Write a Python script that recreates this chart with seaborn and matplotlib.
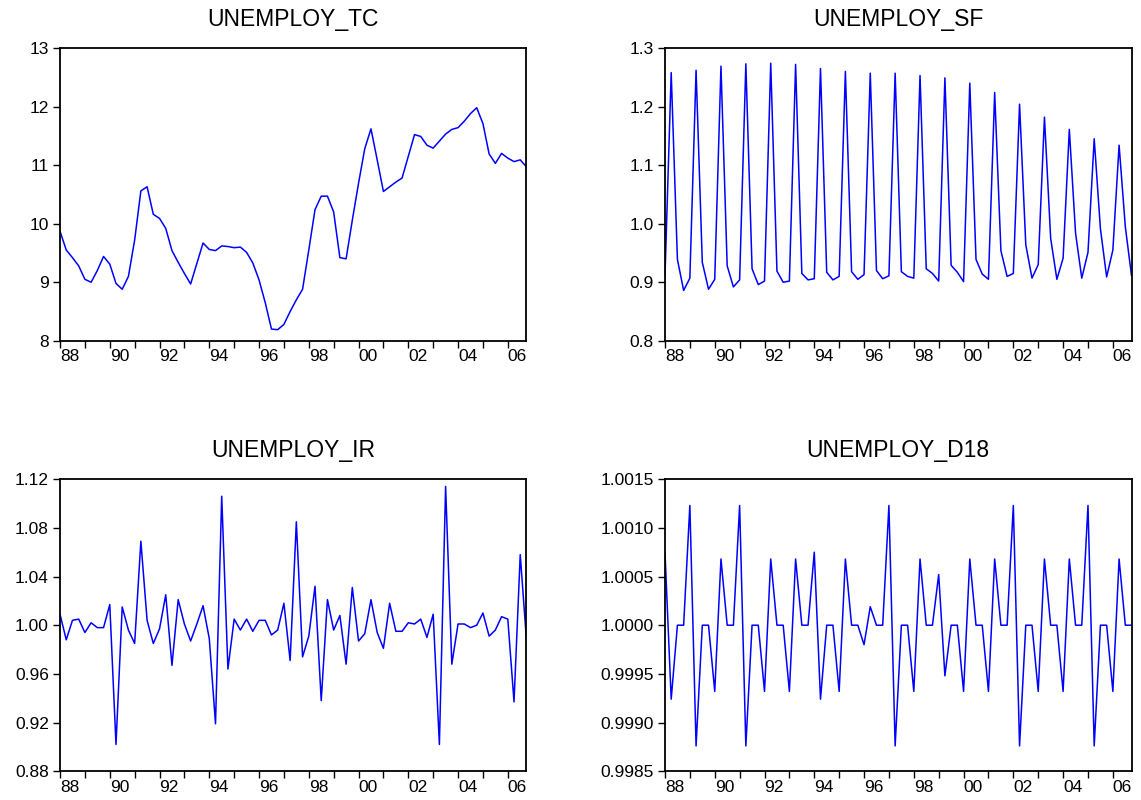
import numpy as np
import pandas as pd
import seaborn as sns
import matplotlib
matplotlib.use('Agg')
from matplotlib import pyplot as plt
from matplotlib.ticker import FormatStrFormatter

# quarterly sample 1988Q1 - 2006Q4
periods = pd.period_range('1988Q1', '2006Q4', freq='Q')
t = periods.year + (periods.quarter - 1) / 4.0

unemploy_tc = [9.87, 9.55, 9.42, 9.28, 9.05, 9.00, 9.20, 9.44, 9.31, 8.98, 8.88, 9.10,
               9.72, 10.56, 10.63, 10.16, 10.09, 9.92, 9.54, 9.34, 9.15, 8.97, 9.32, 9.67,
               9.56, 9.54, 9.62, 9.61, 9.59, 9.60, 9.51, 9.33, 9.04, 8.65, 8.20, 8.19,
               8.28, 8.50, 8.70, 8.88, 9.55, 10.24, 10.47, 10.47, 10.20, 9.42, 9.40, 10.06,
               10.69, 11.28, 11.62, 11.09, 10.55, 10.63, 10.71, 10.78, 11.15, 11.52, 11.49, 11.34,
               11.29, 11.41, 11.53, 11.61, 11.64, 11.75, 11.88, 11.98, 11.71, 11.19, 11.03, 11.20,
               11.12, 11.06, 11.09, 10.97]

unemploy_sf = [0.910, 1.258, 0.939, 0.886, 0.907, 1.262, 0.934, 0.888, 0.905, 1.269, 0.928, 0.892,
               0.904, 1.273, 0.923, 0.896, 0.902, 1.274, 0.919, 0.900, 0.902, 1.272, 0.915, 0.904,
               0.906, 1.265, 0.917, 0.904, 0.910, 1.260, 0.918, 0.905, 0.913, 1.257, 0.920, 0.906,
               0.911, 1.257, 0.918, 0.910, 0.907, 1.253, 0.923, 0.915, 0.902, 1.249, 0.929, 0.917,
               0.901, 1.240, 0.939, 0.914, 0.905, 1.224, 0.954, 0.910, 0.915, 1.204, 0.964, 0.907,
               0.930, 1.182, 0.975, 0.905, 0.941, 1.161, 0.984, 0.907, 0.951, 1.145, 0.991, 0.909,
               0.955, 1.134, 0.995, 0.911]

unemploy_ir = [1.009, 0.988, 1.004, 1.005, 0.994, 1.002, 0.998, 0.998, 1.017, 0.902, 1.015, 0.996,
               0.985, 1.069, 1.004, 0.985, 0.997, 1.025, 0.967, 1.021, 1.001, 0.987, 1.001, 1.016,
               0.989, 0.919, 1.106, 0.964, 1.005, 0.996, 1.005, 0.995, 1.004, 1.004, 0.992, 0.996,
               1.018, 0.971, 1.085, 0.974, 0.991, 1.032, 0.938, 1.021, 0.996, 1.008, 0.968, 1.031,
               0.987, 0.993, 1.021, 0.994, 0.981, 1.018, 0.995, 0.995, 1.002, 1.001, 1.005, 0.990,
               1.009, 0.902, 1.114, 0.968, 1.001, 1.001, 0.998, 1.000, 1.010, 0.991, 0.996, 1.007,
               1.005, 0.937, 1.058, 0.988]

unemploy_d18 = [1.00075, 0.99924, 1.0, 1.0, 1.00123, 0.99876, 1.0, 1.0,
                0.99932, 1.00068, 1.0, 1.0, 1.00123, 0.99876, 1.0, 1.0,
                0.99932, 1.00068, 1.0, 1.0, 0.99932, 1.00068, 1.0, 1.0,
                1.00075, 0.99924, 1.0, 1.0, 0.99932, 1.00068, 1.0, 1.0,
                0.99980, 1.00019, 1.0, 1.0, 1.00123, 0.99876, 1.0, 1.0,
                0.99932, 1.00068, 1.0, 1.0, 1.00052, 0.99948, 1.0, 1.0,
                0.99932, 1.00068, 1.0, 1.0, 0.99932, 1.00068, 1.0, 1.0,
                1.00123, 0.99876, 1.0, 1.0, 0.99932, 1.00068, 1.0, 1.0,
                0.99932, 1.00068, 1.0, 1.0, 1.00123, 0.99876, 1.0, 1.0,
                0.99932, 1.00068, 1.0, 1.0]

years = list(range(1988, 2007))
year_labels = ['%02d' % (y % 100) if y % 2 == 0 else '' for y in years]

panels = [
    ('UNEMPLOY_TC', unemploy_tc, (8, 13), np.arange(8, 13.01, 1), '%d'),
    ('UNEMPLOY_SF', unemploy_sf, (0.8, 1.3), np.arange(0.8, 1.301, 0.1), '%.1f'),
    ('UNEMPLOY_IR', unemploy_ir, (0.88, 1.12), np.arange(0.88, 1.1201, 0.04), '%.2f'),
    ('UNEMPLOY_D18', unemploy_d18, (0.9985, 1.0015), np.arange(0.9985, 1.00151, 0.0005), '%.4f'),
]

sns.set_style('ticks')
plt.rcParams['font.family'] = ['Liberation Sans', 'DejaVu Sans']
plt.rcParams['text.color'] = 'black'
plt.rcParams['axes.titlecolor'] = 'black'

fig = plt.figure(figsize=(11.41, 8.0), dpi=100)
# axes boxes [left, bottom, width, height] in figure fractions
boxes = [
    [0.0526, 0.574, 0.4088, 0.366],
    [0.5828, 0.574, 0.4089, 0.366],
    [0.0526, 0.036, 0.4088, 0.365],
    [0.5828, 0.036, 0.4089, 0.365],
]

for (title, vals, ylim, yticks, fmt), box in zip(panels, boxes):
    ax = fig.add_axes(box)
    sns.lineplot(x=t, y=vals, ax=ax, color='#0000FF', linewidth=1.1)
    ax.set_xlim(1988, 2006.75)
    ax.set_ylim(*ylim)
    ax.set_yticks(yticks)
    ax.yaxis.set_major_formatter(FormatStrFormatter(fmt))
    ax.set_xticks(years)
    ax.set_xticklabels(year_labels)
    for lab in ax.get_xticklabels():
        lab.set_horizontalalignment('left')
    ax.tick_params(axis='both', direction='out', length=5, width=1.0,
                   labelsize=12.5, colors='black', pad=3)
    ax.tick_params(axis='x', pad=1)
    for side in ['top', 'bottom', 'left', 'right']:
        ax.spines[side].set_visible(True)
        ax.spines[side].set_color('black')
        ax.spines[side].set_linewidth(1.3)
    ax.set_xlabel('')
    ax.set_ylabel('')
    ax.set_title(title, fontsize=16.5, pad=16)
    ax.grid(False)

fig.savefig('out.png', dpi=100)
